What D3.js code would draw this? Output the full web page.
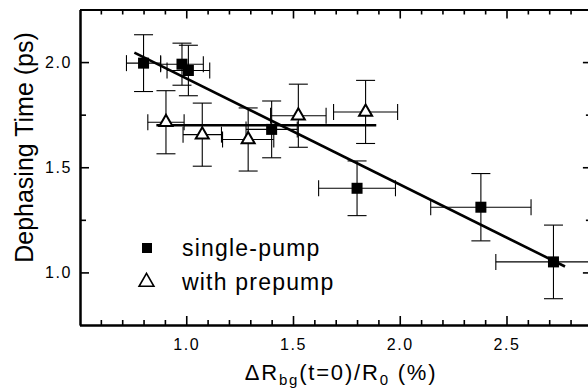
<!DOCTYPE html>
<html>
<head>
<meta charset="utf-8">
<script src="https://cdn.jsdelivr.net/npm/d3@7"></script>
<style>
  body { margin: 0; background: #fff; }
  text { font-family: "Liberation Sans", Arial, sans-serif; fill: #000; }
</style>
</head>
<body>
<svg id="chart" width="588" height="390"></svg>
<script>
// single-pump points (filled squares)
const singleX    = [0.80, 0.98, 1.01, 1.40, 1.80, 2.38, 2.72];
const singleY    = [1.995, 1.99, 1.96, 1.68, 1.40, 1.31, 1.05];
const singleXErr = [0.08, 0.10, 0.10, 0.12, 0.18, 0.235, 0.27];
const singleYErr = [0.135, 0.10, 0.12, 0.135, 0.13, 0.16, 0.175];

// with prepump points (open triangles)
const prepX    = [0.905, 1.075, 1.29, 1.525, 1.84];
const prepY    = [1.714, 1.655, 1.632, 1.745, 1.763];
const prepXErr = [0.085, 0.09, 0.12, 0.13, 0.15];
const prepYErr = [0.15, 0.15, 0.15, 0.15, 0.15];

// linear fits
const fitSingleX = [0.757, 2.774];
const fitSingleY = [2.045, 1.028];
const fitPrepX   = [0.86, 1.89];
const fitPrepY   = [1.70, 1.70];

const xMajor = [1.0, 1.5, 2.0, 2.5];
const xMinor = [0.6, 0.7, 0.8, 0.9, 1.1, 1.2, 1.3, 1.4, 1.6, 1.7, 1.8, 1.9,
                2.1, 2.2, 2.3, 2.4, 2.6, 2.7, 2.8];
const yMajor = [1.0, 1.5, 2.0];
const yMinor = [1.25, 1.75];

const legendLabels = ["single-pump", "with prepump"];

const svg = d3.select("#chart");

const x = d3.scaleLinear().domain([0.5, 2.9]).range([79.5, 591.9]);
const y = d3.scaleLinear().domain([0.75, 2.25]).range([325, 9.5]);

const fmt = d3.format(".1f");

function styleAxis(g) {
  g.select(".domain").attr("stroke", "#000").attr("stroke-width", 2);
  g.selectAll(".tick line").attr("stroke", "#000").attr("stroke-width", 1.6);
  g.selectAll(".tick text")
    .style("font-size", "16px")
    .style("letter-spacing", "1.6px")
    .attr("fill", "#000");
}

// bottom
svg.append("g").attr("transform", "translate(0,325)")
  .call(d3.axisBottom(x).tickValues(xMajor).tickSize(-9).tickSizeOuter(0)
    .tickPadding(14).tickFormat(fmt))
  .call(styleAxis);
svg.append("g").attr("transform", "translate(0,325)")
  .call(d3.axisBottom(x).tickValues(xMinor).tickSize(-5).tickSizeOuter(0).tickFormat(""))
  .call(styleAxis);
// top
svg.append("g").attr("transform", "translate(0,9.5)")
  .call(d3.axisTop(x).tickValues(xMajor).tickSize(-9).tickSizeOuter(0).tickFormat(""))
  .call(styleAxis);
svg.append("g").attr("transform", "translate(0,9.5)")
  .call(d3.axisTop(x).tickValues(xMinor).tickSize(-5).tickSizeOuter(0).tickFormat(""))
  .call(styleAxis);
// left
svg.append("g").attr("transform", "translate(80,0)")
  .call(d3.axisLeft(y).tickValues(yMajor).tickSize(-9).tickSizeOuter(0)
    .tickPadding(8).tickFormat(fmt))
  .call(styleAxis);
svg.append("g").attr("transform", "translate(80,0)")
  .call(d3.axisLeft(y).tickValues(yMinor).tickSize(-6).tickSizeOuter(0).tickFormat(""))
  .call(styleAxis);
// right
svg.append("g").attr("transform", "translate(591.9,0)")
  .call(d3.axisRight(y).tickValues(yMajor).tickSize(-9).tickSizeOuter(0).tickFormat(""))
  .call(styleAxis);
svg.append("g").attr("transform", "translate(591.9,0)")
  .call(d3.axisRight(y).tickValues(yMinor).tickSize(-6).tickSizeOuter(0).tickFormat(""))
  .call(styleAxis);

// error bars
function errorBars(xs, ys, xe, ye) {
  const g = svg.append("g").attr("stroke", "#000").attr("stroke-width", 1.1).attr("fill", "none");
  xs.forEach((xv, i) => {
    const cx = x(xv), cy = y(ys[i]);
    const x0 = x(xv - xe[i]), x1 = x(xv + xe[i]);
    const y0 = y(ys[i] - ye[i]), y1 = y(ys[i] + ye[i]);
    g.append("line").attr("x1", x0).attr("x2", x1).attr("y1", cy).attr("y2", cy);
    g.append("line").attr("x1", x0).attr("x2", x0).attr("y1", cy - 8).attr("y2", cy + 8);
    g.append("line").attr("x1", x1).attr("x2", x1).attr("y1", cy - 8).attr("y2", cy + 8);
    g.append("line").attr("x1", cx).attr("x2", cx).attr("y1", y0).attr("y2", y1);
    g.append("line").attr("x1", cx - 9.5).attr("x2", cx + 9.5).attr("y1", y0).attr("y2", y0);
    g.append("line").attr("x1", cx - 9.5).attr("x2", cx + 9.5).attr("y1", y1).attr("y2", y1);
  });
}
errorBars(singleX, singleY, singleXErr, singleYErr);
errorBars(prepX, prepY, prepXErr, prepYErr);

// fit lines
const line = d3.line().x(d => x(d[0])).y(d => y(d[1]));
svg.append("path").datum(d3.zip(fitSingleX, fitSingleY)).attr("d", line)
  .attr("stroke", "#000").attr("stroke-width", 2.6).attr("fill", "none");
svg.append("path").datum(d3.zip(fitPrepX, fitPrepY)).attr("d", line)
  .attr("stroke", "#000").attr("stroke-width", 2.6).attr("fill", "none");

// markers
svg.append("g").selectAll("rect").data(d3.zip(singleX, singleY)).join("rect")
  .attr("x", d => x(d[0]) - 5.5).attr("y", d => y(d[1]) - 5.5)
  .attr("width", 11).attr("height", 11).attr("fill", "#000");

const tri = d3.symbol().type(d3.symbolTriangle).size(73);
svg.append("g").selectAll("path").data(d3.zip(prepX, prepY)).join("path")
  .attr("transform", d => `translate(${x(d[0])},${y(d[1])})`)
  .attr("d", tri).attr("fill", "#fff").attr("stroke", "#000").attr("stroke-width", 2);

// legend
const leg = svg.append("g");
leg.append("rect").attr("x", 142).attr("y", 243).attr("width", 10).attr("height", 10).attr("fill", "#000");
leg.append("path").attr("transform", "translate(146.5,282)")
  .attr("d", d3.symbol().type(d3.symbolTriangle).size(95))
  .attr("fill", "#fff").attr("stroke", "#000").attr("stroke-width", 1.6);
leg.selectAll("text").data(legendLabels).join("text")
  .attr("x", 182).attr("y", (d, i) => 256 + i * 34)
  .style("font-size", "23px").style("letter-spacing", "1.2px")
  .text(d => d);

// axis titles
svg.append("text")
  .attr("transform", "translate(33,147.5) rotate(-90)")
  .attr("text-anchor", "middle")
  .style("font-size", "25px")
  .text("Dephasing Time (ps)");

const xt = svg.append("text")
  .attr("x", 341).attr("y", 380)
  .attr("text-anchor", "middle")
  .style("font-size", "22px").style("letter-spacing", "1.8px");
xt.append("tspan").text("\u0394R");
xt.append("tspan").attr("dy", 5).style("font-size", "15px").text("bg");
xt.append("tspan").attr("dy", -5).text("(t=0)/R");
xt.append("tspan").attr("dy", 5).style("font-size", "15px").text("0");
xt.append("tspan").attr("dy", -5).text(" (%)");
</script>
</body>
</html>
